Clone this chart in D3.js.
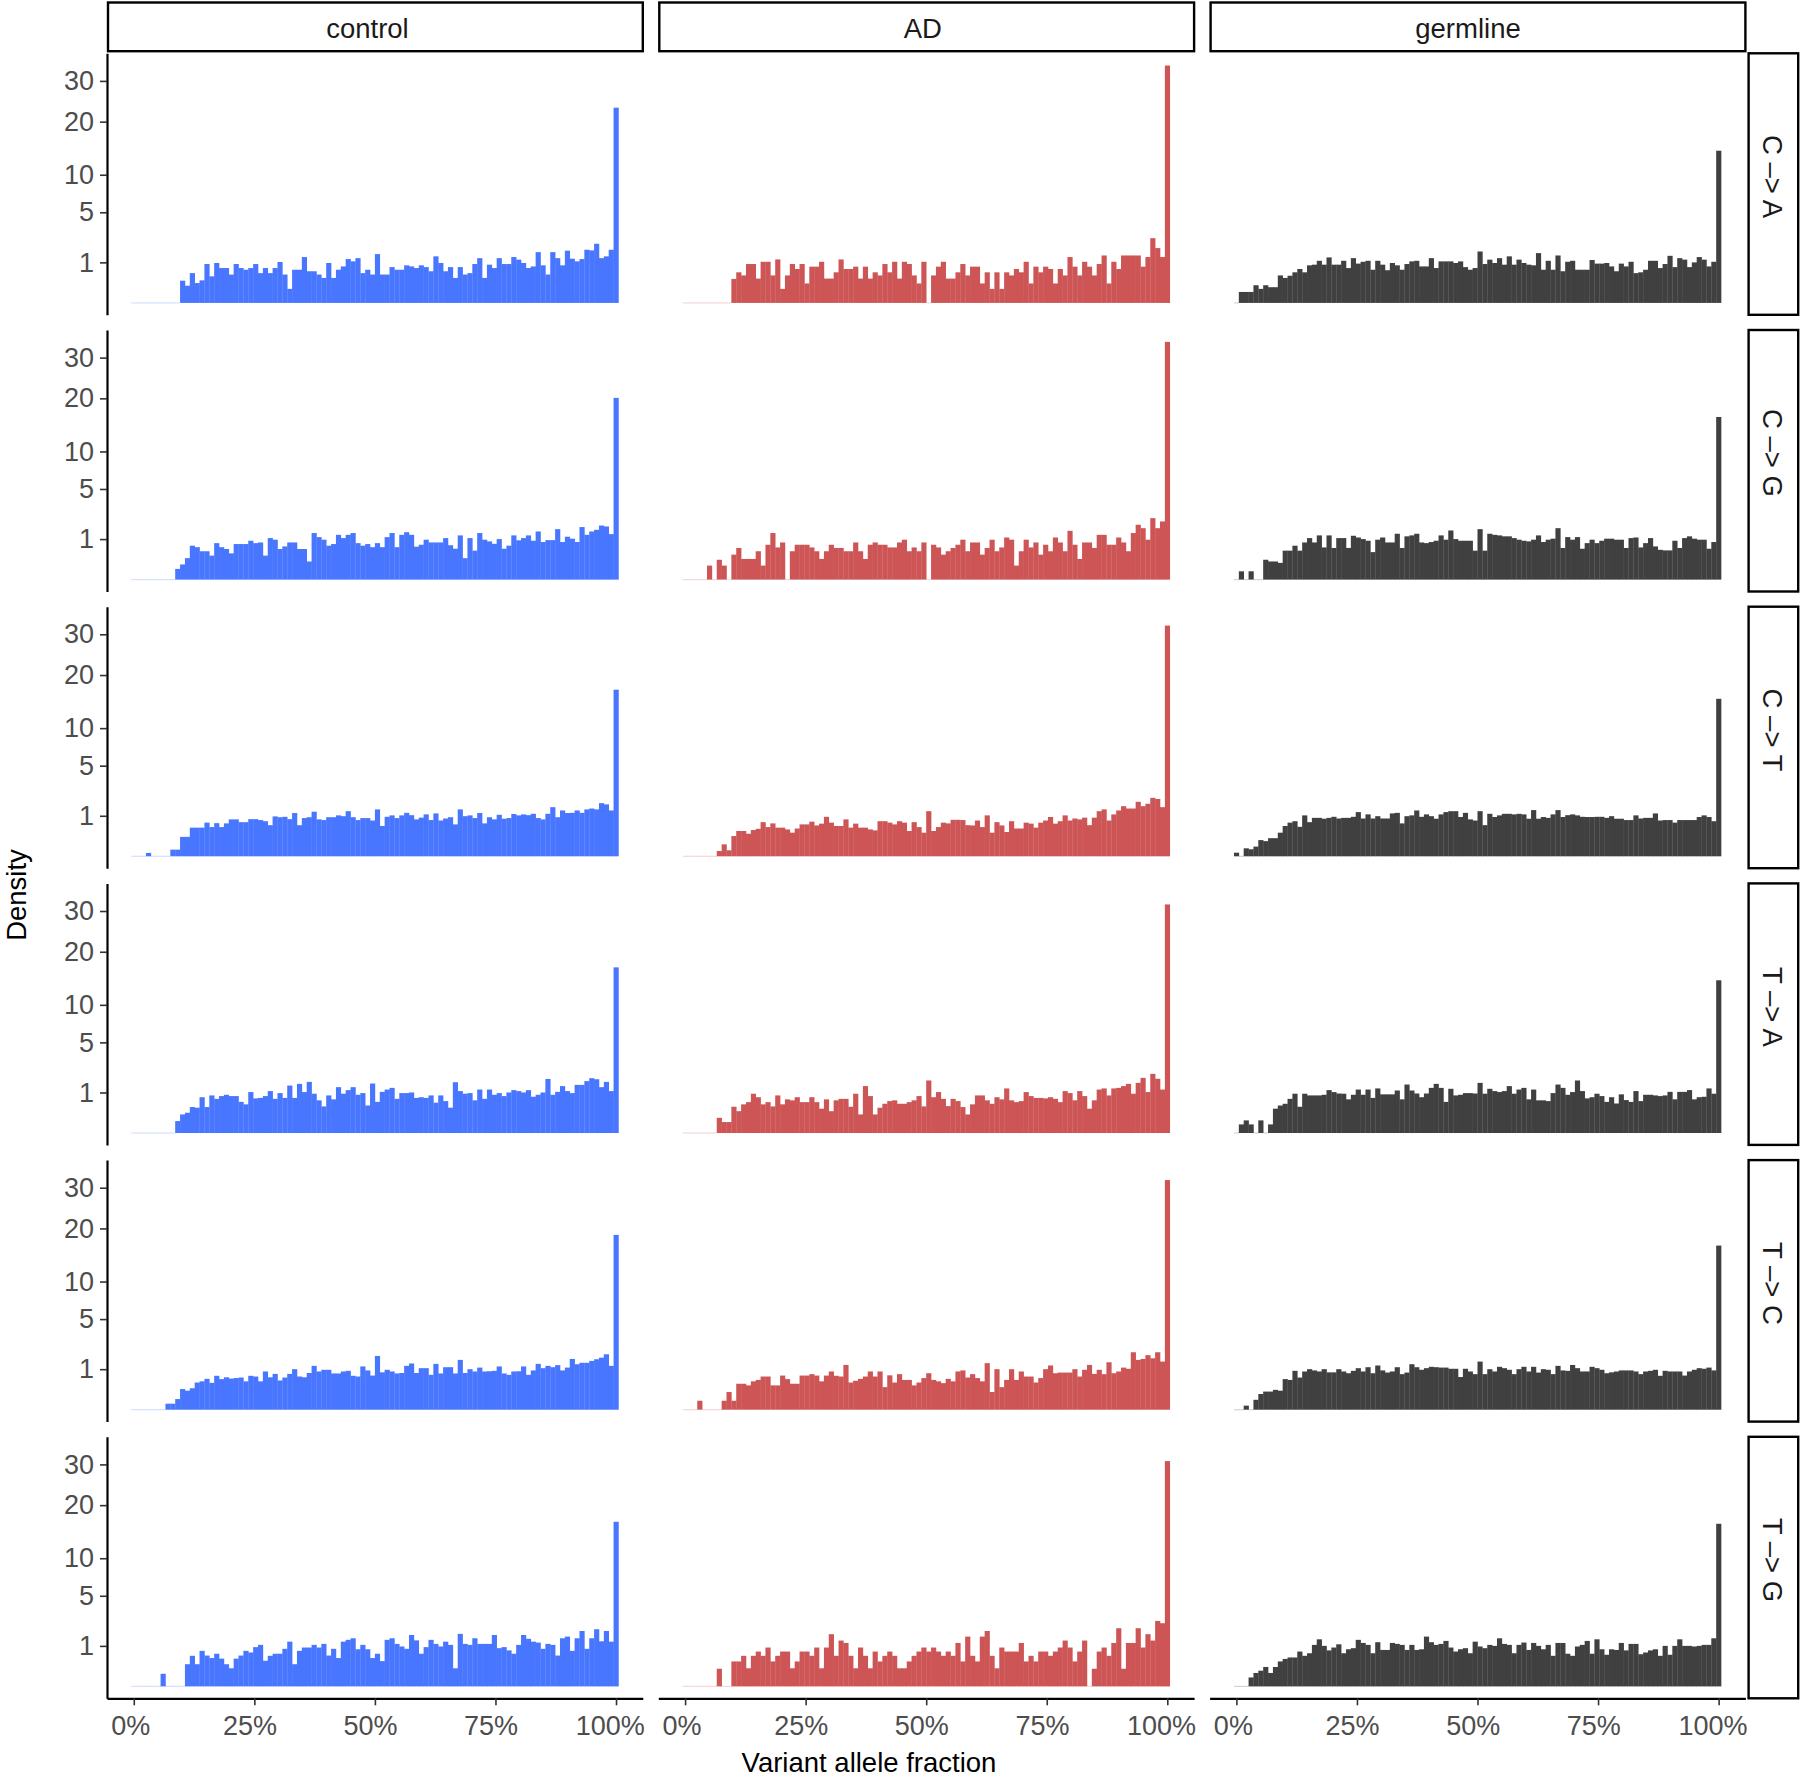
<!DOCTYPE html>
<html>
<head>
<meta charset="utf-8">
<script src="https://cdn.jsdelivr.net/npm/d3@7"></script>
<style>
  html, body { margin: 0; padding: 0; background: #ffffff; }
  svg { display: block; font-family: "Liberation Sans", Arial, Helvetica, sans-serif; }
</style>
</head>
<body>
<svg id="chart" width="1800" height="1778"></svg>
<script>
// ---------------- data ----------------
const groups = ["control", "AD", "germline"];
const mutationTypes = ["C \u2013> A", "C \u2013> G", "C \u2013> T", "T \u2013> A", "T \u2013> C", "T \u2013> G"];
const groupColors = ["#4876FF", "#CD5555", "#404040"];
const yTickValues = [1, 5, 10, 20, 30];
const xTickValues = [0, 0.25, 0.5, 0.75, 1];
const nBins = 100; // bins centred on 0, 1/99, ..., 1
const yTitle = "Density";
const xTitle = "Variant allele fraction";

// densities, 100 bins each (bin 99 = VAF 100%)
const control_CA = [0,0,0,0,0,0,0,0,0,0,
0.30,0.18,0.54,0.24,0.31,0.92,0.43,0.97,0.74,0.74,
0.49,0.92,0.74,0.67,0.74,0.92,0.54,0.74,0.54,0.74,
1.02,0.49,0.12,0.67,0.67,1.28,0.61,0.61,0.49,0.38,
0.97,0.38,0.67,0.81,1.17,1.05,1.22,0.54,0.67,0.49,
1.45,0.49,0.49,0.78,0.67,0.67,0.86,0.81,0.74,0.86,
0.78,0.61,1.32,0.97,0.61,0.78,0.38,0.78,0.49,0.54,
0.92,1.22,0.38,0.89,0.74,1.22,0.92,0.92,1.28,1.14,
0.97,0.74,0.81,1.57,0.86,0.49,1.57,1.22,0.86,1.66,
1.19,1.05,1.17,1.72,1.68,2.13,1.22,1.32,1.72,23.2];
const control_CG = [0,0,0,0,0,0,0,0,0,0.07,
0.14,0.28,0.70,0.64,0.49,0.49,0.35,0.81,0.64,0.57,
0.42,0.77,0.77,0.77,0.92,0.81,0.84,0.35,1.05,0.97,
0.57,0.67,0.84,0.84,0.57,0.57,0.20,1.32,1.10,0.97,
0.70,0.77,1.22,1.05,1.22,1.32,0.81,0.70,0.77,0.64,
0.81,0.64,1.10,1.32,0.64,1.22,1.37,1.22,0.66,0.74,
0.97,0.84,0.84,0.84,1.05,0.72,0.58,1.19,0.28,1.05,
0.51,1.32,0.97,0.89,0.78,1.0,0.58,0.70,1.19,0.94,
1.05,1.19,0.92,1.41,0.86,0.95,0.95,1.55,0.86,1.12,
1.02,0.86,1.68,1.22,1.41,1.51,1.78,1.72,1.26,20.1];
const control_CT = [0,0,0,0.007,0,0,0,0,0.027,0.027,
0.23,0.23,0.50,0.50,0.50,0.69,0.52,0.67,0.52,0.66,
0.83,0.83,0.71,0.71,0.84,0.84,0.80,0.75,0.59,0.97,
0.93,0.95,0.84,1.14,0.59,0.89,0.93,1.21,0.83,0.80,
0.93,0.93,1.02,0.98,1.24,0.93,0.80,0.89,0.89,0.78,
1.34,0.56,0.95,1.02,0.89,1.02,1.15,1.03,0.83,0.91,
1.07,0.80,1.12,0.78,0.87,0.93,0.62,1.34,0.98,1.02,
0.89,1.14,0.66,0.93,0.83,1.05,0.86,0.89,1.09,1.02,
1.07,1.03,1.10,0.89,0.83,1.10,1.47,0.93,1.28,1.14,
1.15,1.28,1.15,1.34,1.39,1.34,1.72,1.64,1.28,16.9];
const control_TA = [0,0,0,0,0,0,0,0,0,0.087,
0.21,0.25,0.41,0.39,0.78,0.41,0.86,0.71,0.83,0.89,
0.83,0.83,0.59,0.50,1.02,0.73,0.75,0.83,1.07,0.71,
0.97,0.75,1.37,0.75,1.47,1.02,1.59,0.94,0.65,0.43,
0.86,0.69,1.28,0.94,1.12,1.28,0.89,0.97,0.46,1.49,
0.59,1.03,1.15,1.24,0.71,0.97,0.97,1.0,0.75,0.78,
0.75,0.86,0.56,0.86,0.62,0.39,1.57,1.07,0.94,0.97,
0.65,1.15,0.71,1.15,0.89,0.97,0.83,1.0,1.12,1.07,
1.0,1.12,0.80,0.89,1.0,1.78,0.89,1.03,1.34,1.07,
0.97,1.41,1.41,1.64,1.83,1.76,1.28,1.59,1.07,16.7];
const control_TC = [0,0,0,0,0,0,0,0.022,0.022,0.069,
0.26,0.22,0.28,0.45,0.49,0.58,0.44,0.70,0.57,0.64,
0.59,0.61,0.63,0.49,0.70,0.67,0.49,0.89,0.64,0.78,
0.52,0.63,0.78,1.0,0.67,0.64,0.82,1.17,0.89,0.97,
0.97,0.80,0.80,0.89,0.92,0.70,0.67,1.14,0.94,0.71,
1.76,0.85,0.97,0.89,0.80,0.82,1.17,1.30,0.82,1.05,
1.05,0.74,1.28,0.80,1.10,1.10,0.80,1.51,0.82,1.0,
0.89,1.08,0.89,0.90,0.92,1.14,0.80,0.74,0.89,0.90,
1.14,0.74,0.94,1.28,1.05,1.17,1.10,1.21,0.94,1.08,
1.57,1.26,1.34,1.34,1.45,1.55,1.65,1.87,1.17,18.6];
const control_TG = [0,0,0,0,0,0,0.097,0,0,0,
0,0.30,0.57,0.30,0.77,0.58,0.49,0.65,0.47,0.30,
0.20,0.47,0.58,0.77,0.70,0.94,1.05,0.40,0.57,0.65,
0.65,0.86,1.22,0.30,0.77,0.92,0.92,1.05,0.92,1.10,
0.58,0.86,0.49,1.22,1.32,1.41,0.84,1.05,0.84,0.49,
0.65,0.39,1.32,1.41,1.10,0.97,0.86,1.61,1.29,0.65,
0.94,1.32,1.10,0.97,1.22,1.05,0.20,1.68,1.10,1.05,
1.41,1.10,1.10,1.10,1.61,0.89,0.94,0.79,0.65,1.05,
1.61,1.38,1.22,1.17,0.86,1.10,1.05,0.58,1.41,1.51,
0.77,1.41,1.87,0.86,1.41,1.99,1.24,1.87,1.22,16.5];

const AD_CA = [0,0,0,0,0,0,0,0,0,0,
0.35,0.57,0.46,0.92,0.92,0.36,1.03,1.03,0.46,1.15,
0.12,0.46,0.92,0.70,0.92,0.23,0.80,0.80,1.03,0.36,
0.36,0.57,1.15,0.70,0.70,0.80,0.36,0.80,0.36,0.57,
0.46,0.92,0.57,1.03,0.36,1.03,0.92,0.46,0.23,1.03,
0,0.46,0.80,1.03,0.36,0.36,0.57,0.92,0.46,0.80,
0.80,0.23,0.57,0.12,0.57,0.12,0.57,0.46,0.70,0.57,
1.03,0.23,0.80,0.57,0.80,0.70,0.23,0.70,0.46,1.28,
0.80,0.46,1.03,0.80,0.46,0.92,1.37,0.23,1.03,0.70,
1.37,1.37,1.37,1.37,0.80,1.28,2.55,1.83,1.28,34.3];
const AD_CG = [0,0,0,0,0,0.12,0,0.24,0.12,0,
0.38,0.61,0.26,0.26,0.26,0.49,0.12,0.74,1.32,0.63,
0.84,0,0.49,0.74,0.74,0.74,0.63,0.49,0.26,0.49,
0.74,0.61,0.61,0.49,0.49,0.84,0.49,0.26,0.74,0.84,
0.74,0.74,0.63,0.63,0.84,0.97,0.49,0.63,0.49,0.84,
0,0.74,0.63,0.38,0.49,0.61,0.74,0.97,0.49,0.84,
0.84,0.38,0.61,0.97,0.49,0.63,1.08,0.97,0.12,0.49,
0.97,0.63,0.84,0.38,0.74,0.49,1.08,0.84,0.49,1.45,
0.74,0.26,0.84,0.84,0.61,1.22,1.22,0.74,0.74,1.08,
0.84,0.49,1.32,1.83,1.61,0.97,2.30,1.61,2.06,34.4];
const AD_CT = [0,0,0,0,0,0,0,0.017,0.087,0.022,
0.25,0.39,0.39,0.31,0.42,0.46,0.71,0.52,0.66,0.50,
0.50,0.44,0.34,0.47,0.62,0.62,0.73,0.58,0.65,0.95,
0.69,0.56,0.56,0.83,0.50,0.65,0.50,0.50,0.44,0.41,
0.75,0.75,0.69,0.62,0.75,0.69,0.39,0.71,0.52,0.34,
1.24,0.39,0.52,0.69,0.66,0.81,0.81,0.80,0.59,0.58,
0.78,0.52,1.02,0.34,0.71,0.58,0.36,0.75,0.47,0.47,
0.69,0.65,0.50,0.69,0.78,0.94,0.65,0.75,1.02,0.78,
0.87,0.83,0.91,0.59,0.91,1.24,1.34,0.78,1.07,1.28,
1.53,1.39,1.39,1.81,1.53,1.68,2.08,2.0,1.47,32.4];
const AD_TA = [0,0,0,0,0,0,0,0.14,0.073,0.073,
0.42,0.29,0.50,0.58,0.94,0.78,0.50,0.58,0.43,0.86,
0.50,0.69,0.65,0.78,0.58,0.58,0.78,0.58,0.36,0.69,
0.29,0.65,0.71,0.71,0.42,0.94,0.21,1.34,0.83,0.21,
0.39,0.52,0.62,0.65,0.52,0.52,0.58,0.65,0.83,0.43,
1.68,0.78,1.02,0.71,0.44,0.71,0.62,0.41,0.21,0.50,
0.86,0.86,0.65,0.52,0.78,0.69,1.21,0.65,0.58,0.62,
1.02,0.83,0.75,0.75,0.73,0.78,0.71,0.58,1.07,0.97,
0.65,1.07,0.83,0.36,0.65,1.15,1.21,0.86,1.21,1.24,
1.34,1.47,0.94,1.53,1.85,1.02,2.13,1.79,1.15,31.8];
const AD_TC = [0,0,0,0.049,0,0,0,0,0.049,0.19,
0.049,0.41,0.41,0.36,0.49,0.54,0.67,0.67,0.36,0.36,
0.71,0.57,0.41,0.41,0.71,0.71,0.77,0.71,0.49,0.71,
0.89,0.70,0.67,1.22,0.45,0.51,0.58,0.67,0.89,0.67,
0.89,0.31,0.72,0.45,0.77,0.54,0.54,0.36,0.45,0.61,
0.81,0.54,0.49,0.43,0.58,0.49,0.89,0.94,0.63,0.77,
0.61,0.49,1.32,0.19,1.0,0.31,0.54,1.0,0.54,0.89,
0.67,0.67,0.45,0.61,1.0,1.19,0.81,0.84,0.84,0.84,
1.0,0.67,0.97,1.22,0.78,0.97,0.77,1.37,0.81,0.89,
1.08,1.02,2.01,1.51,1.57,1.81,1.61,2.01,1.41,32.1];
const AD_TG = [0,0,0,0,0,0,0,0.19,0,0,
0.38,0.38,0.57,0.20,0.57,0.74,0.57,0.92,0.38,0.57,
0.74,0.74,0.20,0.38,0.74,0.74,0.57,0.92,0.20,0.92,
1.66,0.57,1.28,1.15,0.57,0.20,0.92,0.57,0.20,0.74,
0.38,0.57,0.74,0.57,0.20,0.20,0.38,0.57,0.74,0.92,
0.74,0.92,0.74,0.57,0.74,0.57,1.15,0.38,1.51,0.57,
0.38,1.51,1.87,0.57,0.20,0.92,0.74,0.74,0.74,1.15,
0.38,0.57,0.38,0.74,0.74,0.57,0.74,0.92,1.28,0.92,
0.38,0.74,1.28,0,0.19,0.74,0.92,0.57,1.15,2.06,
0.19,1.15,1.15,2.06,0.92,1.66,1.28,2.61,2.43,30.9];

const germline_CA = [0,0.073,0.073,0.073,0.19,0.12,0.19,0.15,0.15,0.46,
0.38,0.45,0.57,0.70,0.57,0.86,0.89,1.08,0.89,1.26,
0.89,0.89,1.08,0.74,1.22,0.94,1.03,1.08,0.67,1.08,
0.89,0.65,0.97,0.86,0.67,0.92,1.05,1.08,0.81,0.81,
1.22,0.74,1.05,1.05,1.05,0.97,1.05,0.78,0.67,0.74,
1.61,0.92,1.14,0.97,1.22,0.89,1.32,0.89,1.14,0.97,
0.89,0.86,1.51,0.67,1.08,0.67,1.37,0.61,1.03,1.08,
0.67,0.67,0.67,1.12,0.94,0.94,0.97,0.81,0.61,0.94,
0.81,1.03,0.54,0.57,0.67,1.08,1.08,0.74,0.92,1.35,
0.78,1.22,1.14,0.78,1.0,1.28,1.14,0.81,1.03,14.1];
const germline_CG = [0,0.042,0,0.042,0,0,0.24,0.20,0.20,0.17,
0.51,0.51,0.70,0.51,0.84,1.05,0.84,1.19,0.63,1.19,
0.61,1.05,1.05,0.61,1.17,1.08,1.0,0.92,0.46,0.97,
1.08,0.84,0.84,1.28,0.61,1.14,1.19,1.28,0.84,0.81,
0.86,0.92,1.19,0.97,1.47,1.0,0.92,0.92,0.92,0.51,
1.55,0.51,1.28,1.22,1.19,1.14,1.14,1.05,0.97,0.92,
0.89,0.97,1.19,0.86,0.97,1.02,1.61,0.61,1.10,0.97,
1.10,0.58,0.81,0.97,0.81,0.92,1.02,1.02,0.97,0.97,
0.61,1.05,1.08,0.63,0.81,1.05,0.67,0.54,0.52,0.52,
0.92,0.61,1.05,1.14,1.02,0.97,0.97,0.58,0.86,16.1];
const germline_CT = [0.008,0,0.039,0.030,0.057,0.16,0.14,0.20,0.20,0.34,
0.56,0.69,0.75,0.53,1.02,0.71,0.90,0.90,0.86,0.90,
0.95,0.87,0.90,0.90,0.95,1.19,0.87,1.07,0.87,0.98,
0.87,0.87,1.12,1.15,0.66,0.98,1.02,1.28,0.95,1.07,
0.98,0.86,1.07,1.19,1.24,1.24,0.94,1.15,0.83,0.78,
1.24,0.59,1.10,0.94,1.02,1.10,1.10,1.07,1.10,1.07,
0.86,1.30,0.86,0.94,0.90,1.07,1.30,0.94,1.03,1.07,
1.02,0.95,0.94,0.94,0.95,0.95,0.90,0.98,0.86,0.86,
0.80,0.80,1.02,0.87,0.90,0.90,1.12,0.78,0.80,0.80,
0.69,0.80,0.80,0.80,0.80,0.94,1.02,0.94,0.75,15.1];
const germline_TA = [0,0.045,0.097,0.045,0,0.097,0,0.045,0.36,0.46,
0.52,0.71,0.94,0.42,0.94,0.86,0.86,0.86,0.89,1.12,
1.02,0.95,0.94,0.69,0.89,1.15,0.89,1.15,0.75,1.21,
0.91,0.91,0.91,1.10,0.69,1.43,1.10,0.95,0.78,0.95,
1.24,1.47,1.24,0.59,1.19,0.86,0.89,0.97,0.97,0.95,
1.53,0.94,1.19,1.07,1.02,1.07,1.34,0.94,1.15,1.24,
0.69,1.15,0.65,0.65,0.62,0.97,1.43,1.24,0.89,1.02,
1.68,1.07,0.73,0.78,0.94,0.83,0.59,0.78,0.53,0.91,
0.66,0.59,1.07,0.62,0.89,0.89,0.86,0.83,0.86,1.03,
0.69,1.03,1.03,1.12,0.69,0.78,0.80,1.21,0.94,14.2];
const germline_TC = [0,0,0.01,0,0.06,0.15,0.20,0.20,0.24,0.22,
0.57,0.54,0.92,0.63,0.89,1.0,0.94,0.89,1.0,0.85,
0.85,1.0,0.89,0.81,0.92,1.05,0.89,1.10,0.81,1.19,
0.94,0.84,0.89,1.10,0.77,0.84,1.26,1.10,0.97,1.05,
1.12,1.10,1.08,1.08,1.02,1.02,0.65,1.02,0.89,0.77,
1.41,0.77,1.0,0.89,1.12,1.05,0.97,0.77,1.0,1.12,
0.89,1.12,0.84,1.0,0.97,0.77,1.17,0.94,0.92,1.22,
1.05,0.89,0.89,1.12,1.05,0.97,0.81,0.85,0.89,0.94,
0.94,0.94,0.89,0.77,0.89,0.92,0.97,0.70,0.92,0.89,
0.89,0.89,0.71,0.89,0.97,1.05,1.02,1.08,0.94,16.4];
const germline_TG = [0,0,0,0.049,0.11,0.15,0.23,0.11,0.23,0.38,
0.46,0.51,0.51,0.74,0.57,0.67,1.05,1.35,1.0,0.79,
0.92,1.08,0.67,0.84,0.89,1.32,1.15,1.05,0.67,1.19,
0.81,0.81,1.15,1.10,1.05,0.81,1.05,0.81,0.84,1.51,
1.19,1.05,1.10,1.26,0.92,0.74,0.84,0.89,0.67,1.22,
0.97,0.89,1.05,1.0,1.41,1.10,1.05,0.67,1.05,1.17,
0.81,1.15,1.0,0.84,1.05,0.57,1.15,1.15,0.65,0.57,
0.97,1.05,1.26,0.65,1.35,0.84,0.61,0.84,0.81,1.15,
0.79,1.10,1.10,0.63,0.70,0.79,0.84,0.57,1.0,0.61,
1.0,1.35,1.0,1.0,0.97,1.0,1.05,1.05,1.41,16.1];

// panel lookup [group][mutation]
const panelData = {
  control:  [control_CA, control_CG, control_CT, control_TA, control_TC, control_TG],
  AD:       [AD_CA, AD_CG, AD_CT, AD_TA, AD_TC, AD_TG],
  germline: [germline_CA, germline_CG, germline_CT, germline_TA, germline_TC, germline_TG]
};

// ---------------- layout ----------------
const svg = d3.select("#chart");
const panelLeft0 = 107, panelW = 535.8, panelGapX = 15.5;
const panelTop0 = 53.3, panelH = 261.5, panelPitchY = 276.7;
const stripTopY = 2.5, stripTopH = 48.7;
const stripRightX = 1748.6, stripRightW = 49.6;
const fontSize = 27.5, tickFont = 27;
const textShift = 0.09; // labels sit slightly left of centre in the reference

Object.values(panelData).forEach((arr, gi) => arr.forEach((a, mi) => {
  if (a.length !== nBins) console.error("bad length", groups[gi], mi, a.length);
}));

const maxD = d3.max(groups.flatMap(g => panelData[g].map(a => d3.max(a))));
const sqrtMax = Math.sqrt(maxD);

// bin edges (ggplot bins=100 on [0,1]: width 1/99, centred on 0 and 1)
const bw = 1 / (nBins - 1);
const dataLo = -bw / 2, dataHi = 1 + bw / 2;
const xExp = 0.05 * (dataHi - dataLo);

function shiftLeft(sel) {
  sel.each(function() {
    const len = this.getComputedTextLength();
    const x0 = +d3.select(this).attr("x") || 0;
    d3.select(this).attr("x", x0 - textShift * len);
  });
}

groups.forEach((g, gi) => {
  const px = panelLeft0 + gi * (panelW + panelGapX);
  const x = d3.scaleLinear().domain([dataLo - xExp, dataHi + xExp]).range([px, px + panelW]);

  // top strip
  const sg = svg.append("g");
  sg.append("rect").attr("x", px + 1).attr("y", stripTopY).attr("width", panelW - 1).attr("height", stripTopH)
    .attr("fill", "#ffffff").attr("stroke", "#000").attr("stroke-width", 2.4);
  sg.append("text").attr("x", px + panelW / 2).attr("y", 38.3).attr("text-anchor", "middle")
    .attr("font-size", fontSize).attr("fill", "#1A1A1A").text(g).call(shiftLeft);

  mutationTypes.forEach((m, mi) => {
    const py = panelTop0 + mi * panelPitchY;
    const y = d3.scaleSqrt()
      .domain([-Math.pow(0.05 * sqrtMax, 2), Math.pow(1.05 * sqrtMax, 2)])
      .range([py + panelH, py]);
    const vals = panelData[g][mi];
    const bins = vals.map((d, i) => ({ i, d, x0: (i - 0.5) * bw, x1: (i + 0.5) * bw }));
    const pg = svg.append("g");
    // zero-height bins render as a faint hairline at the baseline
    pg.selectAll("rect.zero").data(bins.filter(b => b.d === 0)).join("rect")
      .attr("class", "zero")
      .attr("x", b => x(b.x0)).attr("width", b => x(b.x1) - x(b.x0) + 0.3)
      .attr("y", y(0) - 0.6).attr("height", 1.2)
      .attr("fill", groupColors[gi]).attr("fill-opacity", 0.22);
    pg.selectAll("rect.bar").data(bins.filter(b => b.d > 0)).join("rect")
      .attr("class", "bar")
      .attr("x", b => x(b.x0)).attr("width", b => x(b.x1) - x(b.x0) + 0.3)
      .attr("y", b => y(b.d)).attr("height", b => y(0) - y(b.d))
      .attr("fill", groupColors[gi]);

    // y axis on left column
    if (gi === 0) {
      const ya = svg.append("g").attr("transform", `translate(${px},0)`)
        .call(d3.axisLeft(y).tickValues(yTickValues).tickFormat(d3.format("d"))
          .tickSize(7).tickSizeOuter(0).tickPadding(6));
      ya.select(".domain").attr("stroke", "#000").attr("stroke-width", 2.2);
      ya.selectAll(".tick line").attr("stroke", "#333333").attr("stroke-width", 1.6);
      ya.selectAll(".tick text").attr("font-size", tickFont).attr("fill", "#4D4D4D")
        .attr("font-family", "Liberation Sans, Arial, sans-serif");
    }

    // right strips on last column
    if (gi === groups.length - 1) {
      const rs = svg.append("g");
      rs.append("rect").attr("x", stripRightX).attr("y", py).attr("width", stripRightW).attr("height", panelH)
        .attr("fill", "#ffffff").attr("stroke", "#000").attr("stroke-width", 2.4);
      const cx = stripRightX + stripRightW / 2 - 1, cy = py + panelH / 2;
      const t = rs.append("text").attr("transform", `translate(${cx},${cy}) rotate(90)`)
        .attr("x", 0).attr("y", 0).attr("dy", "0.35em").attr("text-anchor", "middle")
        .attr("font-size", fontSize).attr("fill", "#1A1A1A").text(m);
      t.call(shiftLeft);
    }

    // x axis on the bottom row
    if (mi === mutationTypes.length - 1) {
      const xa = svg.append("g").attr("transform", `translate(0,${py + panelH})`)
        .call(d3.axisBottom(x).tickValues(xTickValues).tickFormat(d3.format(".0%"))
          .tickSize(7).tickSizeOuter(0).tickPadding(10.5));
      xa.select(".domain").attr("stroke", "#000").attr("stroke-width", 2.2);
      xa.selectAll(".tick line").attr("stroke", "#333333").attr("stroke-width", 1.6);
      xa.selectAll(".tick text").attr("font-size", tickFont).attr("fill", "#4D4D4D")
        .attr("font-family", "Liberation Sans, Arial, sans-serif").call(shiftLeft);
    }
  });
});

// axis titles
svg.append("text").attr("x", 869).attr("y", 1771.5).attr("text-anchor", "middle")
  .attr("font-size", fontSize).attr("fill", "#000").text(xTitle);
svg.append("text").attr("transform", "translate(26,895) rotate(-90)").attr("text-anchor", "middle")
  .attr("font-size", fontSize).attr("fill", "#000").text(yTitle);
</script>
</body>
</html>
